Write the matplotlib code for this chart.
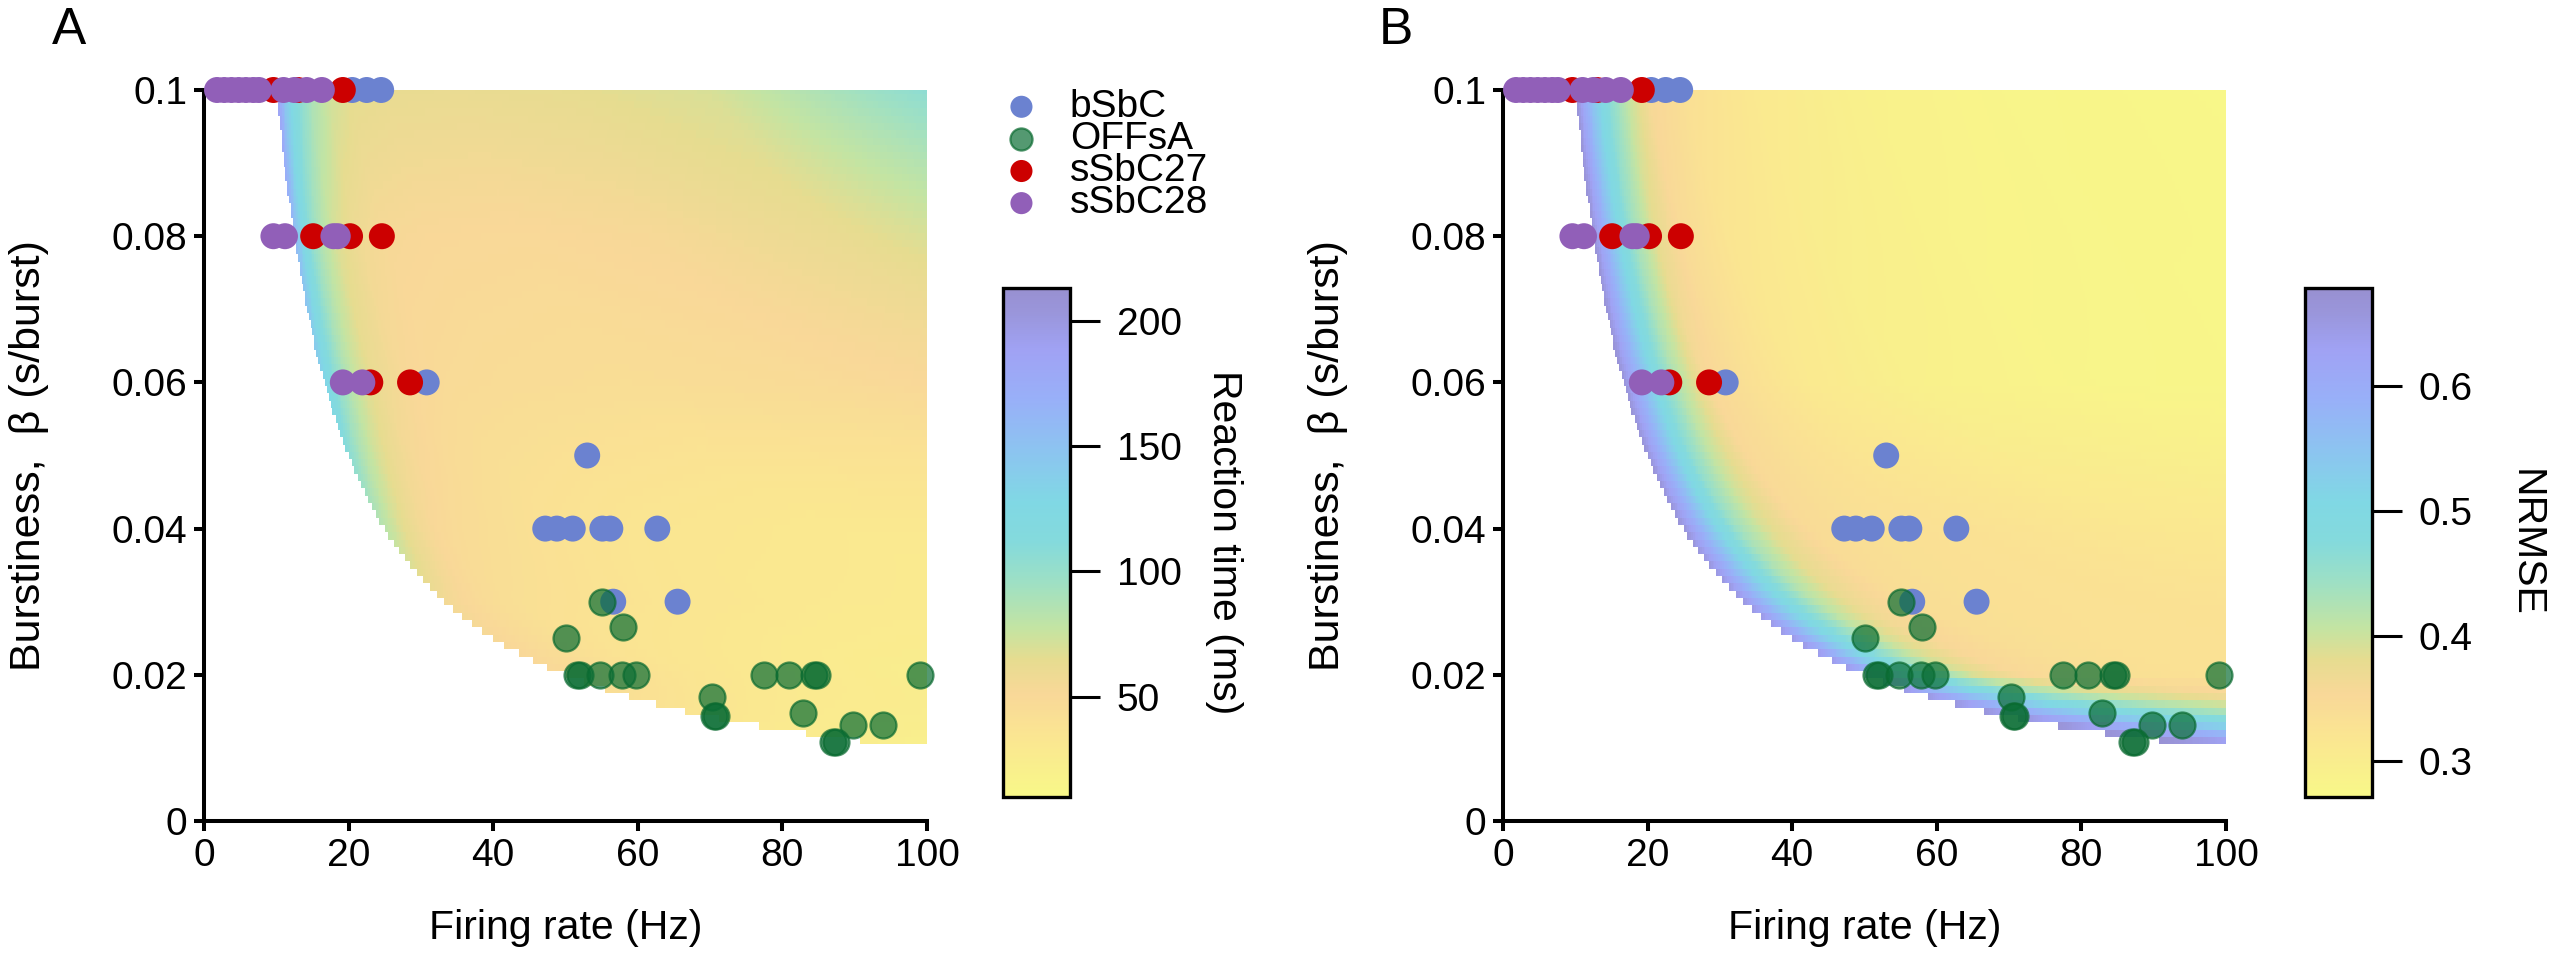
import numpy as np
import matplotlib
matplotlib.use("Agg")
import matplotlib.pyplot as plt
from matplotlib.colors import LinearSegmentedColormap, Normalize
from matplotlib.cm import ScalarMappable

plt.rcParams['font.family'] = ['Liberation Sans', 'DejaVu Sans']

# ---------------- data ----------------
groups = ['bSbC', 'OFFsA', 'sSbC27', 'sSbC28']

bsbc_rate = [20.5, 22.5, 24.5, 30.8, 53.0, 47.2, 48.8, 51.0, 55.1, 56.2, 62.7, 56.6, 65.5]
bsbc_beta = [0.1, 0.1, 0.1, 0.06, 0.05, 0.04, 0.04, 0.04, 0.04, 0.04, 0.04, 0.03, 0.03]

offsa_rate = [55.1, 58.0, 50.0, 51.6, 52.0, 54.8, 57.8, 59.8, 77.5, 80.9, 84.4, 84.8, 99.0,
              70.2, 70.5, 70.8, 82.9, 89.8, 93.9, 87.0, 87.4]
offsa_beta = [0.03, 0.0266, 0.025, 0.02, 0.02, 0.02, 0.02, 0.02, 0.02, 0.02, 0.02, 0.02, 0.02,
              0.017, 0.0143, 0.0143, 0.0148, 0.0131, 0.0131, 0.0108, 0.0108]

ssbc27_rate = [9.6, 13.0, 19.2, 15.1, 20.2, 24.6, 23.0, 28.5]
ssbc27_beta = [0.1, 0.1, 0.1, 0.08, 0.08, 0.08, 0.06, 0.06]

ssbc28_rate = [1.8, 2.8, 3.8, 4.8, 5.8, 6.8, 7.6, 11.0, 12.5, 14.2, 16.3, 9.6, 11.2, 17.9, 18.5, 19.2, 21.9]
ssbc28_beta = [0.1] * 11 + [0.08] * 4 + [0.06] * 2

# model surfaces, tabulated per burstiness row against spikes-per-burst (rate * beta)
beta_rows = [0.011, 0.02, 0.03, 0.04, 0.06, 0.08, 0.1]
spb_cols = [1.0, 1.1, 1.2, 1.3, 1.45, 1.7, 2.0, 2.5, 3.5, 5.0, 7.0, 10.0]

rt_table = [
    [24, 22, 21, 20, 20, 20, 20, 20, 20, 20, 20, 20],
    [50, 45, 40, 36, 32, 28, 24, 22, 22, 22, 22, 22],
    [56, 50, 45, 42, 40, 37, 34, 30, 27, 26, 26, 26],
    [82, 66, 56, 50, 46, 42, 38, 34, 30, 30, 30, 30],
    [135, 105, 85, 72, 60, 52, 48, 46, 44, 47, 55, 60],
    [160, 125, 100, 85, 70, 58, 53, 51, 50, 53, 62, 85],
    [190, 150, 125, 110, 92, 75, 66, 63, 62, 64, 70, 105],
]
nrmse_table = [
    [0.67, 0.63, 0.59, 0.56, 0.51, 0.43, 0.38, 0.36, 0.35, 0.34, 0.34, 0.34],
    [0.64, 0.53, 0.45, 0.39, 0.35, 0.335, 0.33, 0.33, 0.33, 0.33, 0.33, 0.33],
    [0.65, 0.555, 0.475, 0.415, 0.37, 0.34, 0.333, 0.33, 0.325, 0.32, 0.32, 0.32],
    [0.66, 0.58, 0.50, 0.44, 0.39, 0.345, 0.335, 0.33, 0.315, 0.305, 0.30, 0.30],
    [0.665, 0.60, 0.54, 0.48, 0.42, 0.355, 0.335, 0.31, 0.29, 0.28, 0.275, 0.275],
    [0.665, 0.61, 0.55, 0.50, 0.44, 0.38, 0.345, 0.32, 0.30, 0.285, 0.278, 0.275],
    [0.665, 0.61, 0.56, 0.52, 0.47, 0.41, 0.36, 0.335, 0.31, 0.29, 0.28, 0.275],
]

rt_ticks = [50, 100, 150, 200]
rt_range = (10, 213)
nrmse_ticks = [0.3, 0.4, 0.5, 0.6]
nrmse_range = (0.271, 0.678)

x_ticks = [0, 20, 40, 60, 80, 100]
y_ticks = [0, 0.02, 0.04, 0.06, 0.08, 0.1]
y_tick_labels = ['0', '0.02', '0.04', '0.06', '0.08', '0.1']

# ---------------- styles ----------------
cmap_pos = [0.0, 0.1, 0.2, 0.27, 0.33, 0.42, 0.5, 0.58, 0.68, 0.78, 0.88, 0.95, 1.0]
cmap_col = ['#f8f888', '#fae890', '#f9d898', '#e6dc90', '#c4e4a2', '#9ee0c4', '#84dadc',
            '#80d8e4', '#8cc4f0', '#98b0f8', '#a0a2f4', '#9a96dc', '#9890d0']
cmap = LinearSegmentedColormap.from_list('rt', list(zip(cmap_pos, cmap_col)))

styles = {
    'bSbC': dict(c='#6b82d0', edgecolors='none', alpha=1.0),
    'OFFsA': dict(c='#0b6e35', edgecolors='#0a6a30', linewidths=1.6, alpha=0.7),
    'sSbC27': dict(c='#cc0000', edgecolors='none', alpha=1.0),
    'sSbC28': dict(c='#915fb8', edgecolors='none', alpha=1.0),
}
series = {
    'bSbC': (bsbc_rate, bsbc_beta),
    'OFFsA': (offsa_rate, offsa_beta),
    'sSbC27': (ssbc27_rate, ssbc27_beta),
    'sSbC28': (ssbc28_rate, ssbc28_beta),
}

FS = 28
W, H = 2560, 961
fig = plt.figure(figsize=(W / 100, H / 100), dpi=100)


def fpos(x0, y0, x1, y1):
    return [x0 / W, 1 - y1 / H, (x1 - x0) / W, (y1 - y0) / H]


# ---------------- field on the simulation grid ----------------
x_edges = np.arange(0, 100.001, 0.25)
xc = 0.5 * (x_edges[:-1] + x_edges[1:])
b_centers = np.round(np.arange(0.011, 0.10001, 0.001), 4)
b_edges = np.append(b_centers - 0.0005, b_centers[-1] + 0.0005)


def build_field(table):
    tab = np.asarray(table, float)
    br = np.asarray(beta_rows)
    Z = np.empty((len(b_centers), len(xc)))
    for i, b in enumerate(b_centers):
        u = xc * b
        rows = np.array([np.interp(u, spb_cols, r) for r in tab])
        k = int(np.clip(np.searchsorted(br, b), 1, len(br) - 1))
        w = np.clip((b - br[k - 1]) / (br[k] - br[k - 1]), 0, 1)
        Z[i] = (1 - w) * rows[k - 1] + w * rows[k]
    XX, BB = np.meshgrid(xc, b_centers)
    return np.ma.masked_where(XX * BB < 0.999, Z)


def draw_panel(ax, table, rng, letter, lx):
    norm = Normalize(*rng)
    Z = build_field(table)
    ax.pcolormesh(x_edges, b_edges, Z, cmap=cmap, norm=norm, shading='flat',
                  antialiased=False, edgecolors='none', zorder=0, rasterized=True)
    for g in groups:
        xs, ys = series[g]
        ax.scatter(xs, ys, s=350, label=g, clip_on=False, zorder=3, **styles[g])
    ax.set_xlim(0, 100)
    ax.set_ylim(0, 0.1)
    ax.set_xticks(x_ticks)
    ax.set_xticklabels([str(t) for t in x_ticks])
    ax.set_yticks(y_ticks)
    ax.set_yticklabels(y_tick_labels)
    for s in ['top', 'right']:
        ax.spines[s].set_visible(False)
    for s in ['left', 'bottom']:
        ax.spines[s].set_linewidth(2.9)
    ax.tick_params(length=7, width=2.9, labelsize=FS, pad=5)
    ax.set_xlabel('Firing rate (Hz)', fontsize=29.5)
    ax.xaxis.set_label_coords(0.5, -0.147)
    ax.xaxis.label.set_va('center')
    ax.set_ylabel('Burstiness,  \u03b2 (s/burst)', fontsize=31)
    ax.yaxis.set_label_coords(-0.242, 0.5)
    ax.yaxis.label.set_va('center')
    fig.text(lx / W, 1 - 30 / H, letter, fontsize=37, ha='center', va='center')
    return norm


def draw_cbar(cax, norm, ticks, label, labx):
    cb = fig.colorbar(ScalarMappable(norm=norm, cmap=cmap), cax=cax, ticks=ticks)
    cb.outline.set_linewidth(2.4)
    cax.tick_params(length=21.6, width=2.2, labelsize=FS, pad=12)
    cb.set_ticklabels([f'{t:g}' for t in ticks])
    cax.set_ylabel(label, rotation=270, fontsize=29.5)
    cax.yaxis.set_label_coords(labx, 0.5)
    cax.yaxis.label.set_va('center')
    cax.yaxis.label.set_ha('center')


axA = fig.add_axes(fpos(204, 90, 927, 821))
axB = fig.add_axes(fpos(1503, 90, 2226, 821))
caxA = fig.add_axes(fpos(1003, 288, 1070, 797))
caxB = fig.add_axes(fpos(2305, 288, 2372, 797))

nA = draw_panel(axA, rt_table, rt_range, 'A', 69)
nB = draw_panel(axB, nrmse_table, nrmse_range, 'B', 1396)
draw_cbar(caxA, nA, rt_ticks, 'Reaction time (ms)', (1224 - 1003) / 67)
draw_cbar(caxB, nB, nrmse_ticks, 'NRMSE', (2526 - 2305) / 67)

handles, labels = axA.get_legend_handles_labels()
fig.legend(handles, labels, loc='upper left', bbox_to_anchor=(1002 / W, 1 - 89 / H),
           frameon=False, fontsize=FS, markerscale=0.85, scatterpoints=1,
           handlelength=1.0, handletextpad=0.74, borderpad=0, borderaxespad=0,
           labelspacing=-0.1)

fig.savefig('out.png', dpi=100)
